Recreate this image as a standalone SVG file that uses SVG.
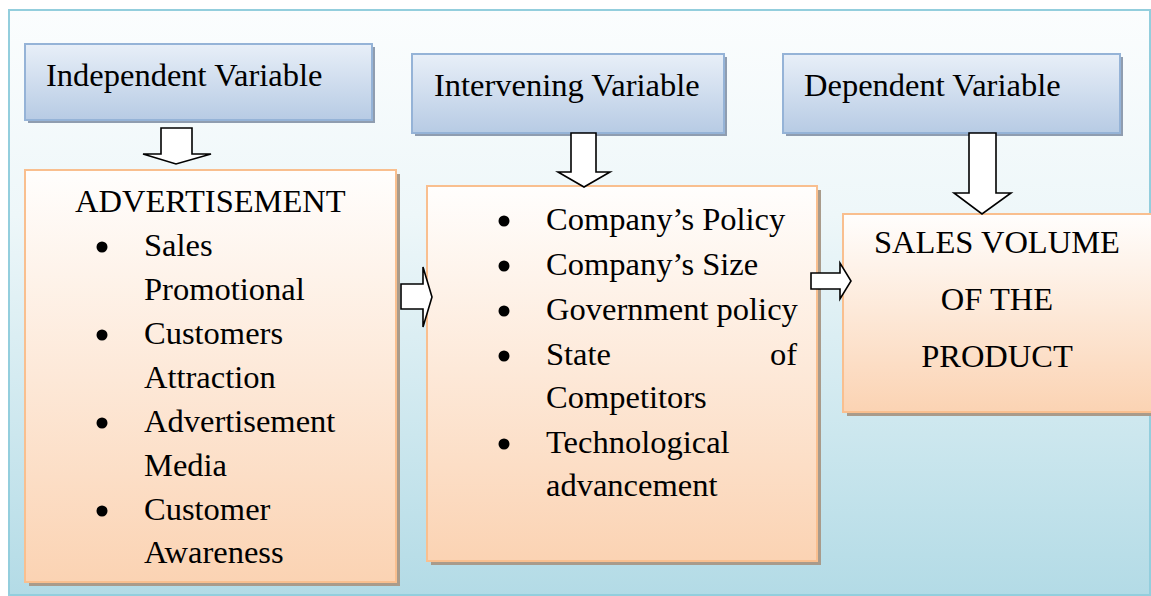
<svg xmlns="http://www.w3.org/2000/svg" width="1151" height="596" viewBox="0 0 1151 596">
  <defs>
    <linearGradient id="bg" x1="0" y1="0" x2="0" y2="1">
      <stop offset="0" stop-color="#fbfdfe"/>
      <stop offset="0.35" stop-color="#eef7f9"/>
      <stop offset="1" stop-color="#b3dbe6"/>
    </linearGradient>
    <linearGradient id="head" x1="0" y1="0" x2="0" y2="1">
      <stop offset="0" stop-color="#e8eff8"/>
      <stop offset="1" stop-color="#b7cbe4"/>
    </linearGradient>
    <linearGradient id="peach" x1="0" y1="0" x2="0" y2="1">
      <stop offset="0" stop-color="#fffefd"/>
      <stop offset="1" stop-color="#fbd3b3"/>
    </linearGradient>
    <style>
      .t { font-family: "Liberation Serif", "Times New Roman", serif; font-size: 32.5px; fill: #000; }
      .mid { text-anchor: middle; }
      .end { text-anchor: end; }
      .hbox { fill: url(#head); stroke: #95b3d7; stroke-width: 2; }
      .hsh { fill: #8f9db0; }
      .obox { fill: url(#peach); stroke: #f9bf8f; stroke-width: 2; }
      .osh { fill: #a99b8b; }
      .dot { fill: #000; }
      .arrow { fill: #fff; stroke: #000; stroke-width: 1.6; stroke-linejoin: miter; }
    </style>
  </defs>

  <!-- frame -->
  <rect x="9" y="10" width="1141" height="585" fill="url(#bg)" stroke="#93cedd" stroke-width="2"/>

  <!-- header boxes -->
  <g id="independent-variable">
    <rect class="hsh" x="28" y="47" width="347" height="76"/>
    <rect class="hbox" x="25" y="44" width="347" height="76"/>
    <text class="t" x="46" y="86">Independent Variable</text>
  </g>
  <g id="intervening-variable">
    <rect class="hsh" x="415" y="57" width="312" height="79"/>
    <rect class="hbox" x="412" y="54" width="312" height="79"/>
    <text class="t" x="434" y="96">Intervening Variable</text>
  </g>
  <g id="dependent-variable">
    <rect class="hsh" x="786" y="57" width="337" height="79"/>
    <rect class="hbox" x="783" y="54" width="337" height="79"/>
    <text class="t" x="804" y="96">Dependent Variable</text>
  </g>

  <!-- content boxes -->
  <g id="advertisement">
    <rect class="osh" x="29" y="174" width="371" height="412"/>
    <rect class="obox" x="25" y="170" width="371" height="412"/>
    <text class="t" x="75" y="212">ADVERTISEMENT</text>
    <circle class="dot" cx="102" cy="247" r="5.5"/>
    <text class="t" x="144" y="256">Sales</text>
    <text class="t" x="144" y="300">Promotional</text>
    <circle class="dot" cx="102" cy="335" r="5.5"/>
    <text class="t" x="144" y="344">Customers</text>
    <text class="t" x="144" y="388">Attraction</text>
    <circle class="dot" cx="102" cy="423" r="5.5"/>
    <text class="t" x="144" y="432">Advertisement</text>
    <text class="t" x="144" y="476">Media</text>
    <circle class="dot" cx="102" cy="511" r="5.5"/>
    <text class="t" x="144" y="520">Customer</text>
    <text class="t" x="144" y="563">Awareness</text>
  </g>

  <g id="intervening-factors">
    <rect class="osh" x="431" y="190" width="390" height="375"/>
    <rect class="obox" x="427" y="186" width="390" height="375"/>
    <circle class="dot" cx="504" cy="221" r="5.5"/>
    <text class="t" x="546" y="230">Company’s Policy</text>
    <circle class="dot" cx="504" cy="266" r="5.5"/>
    <text class="t" x="546" y="275">Company’s Size</text>
    <circle class="dot" cx="504" cy="311" r="5.5"/>
    <text class="t" x="546" y="320">Government policy</text>
    <circle class="dot" cx="504" cy="356" r="5.5"/>
    <text class="t" x="546" y="365">State</text>
    <text class="t end" x="797" y="365">of</text>
    <text class="t" x="546" y="408">Competitors</text>
    <circle class="dot" cx="504" cy="444" r="5.5"/>
    <text class="t" x="546" y="453">Technological</text>
    <text class="t" x="546" y="496">advancement</text>
  </g>

  <g id="sales-volume">
    <rect class="osh" x="847" y="218" width="310" height="198"/>
    <rect class="obox" x="843" y="214" width="310" height="198"/>
    <text class="t mid" x="997" y="253">SALES VOLUME</text>
    <text class="t mid" x="997" y="310">OF THE</text>
    <text class="t mid" x="997" y="367">PRODUCT</text>
  </g>

  <!-- block arrows -->
  <g id="connectors">
    <path class="arrow" d="M161,128 H192 V154 H211 L176,164 L143,154 H161 Z"/>
    <path class="arrow" d="M571,133 H596 V172 H610 L584,187 L558,172 H571 Z"/>
    <path class="arrow" d="M969,133 H996 V193 H1011 L982,214 L954,193 H969 Z"/>
    <path class="arrow" d="M401,284 H423 V267 L432,297 L423,327 V309 H401 Z"/>
    <path class="arrow" d="M811,273 H840 V263 L851,281 L840,299 V289 H811 Z"/>
  </g>
</svg>
